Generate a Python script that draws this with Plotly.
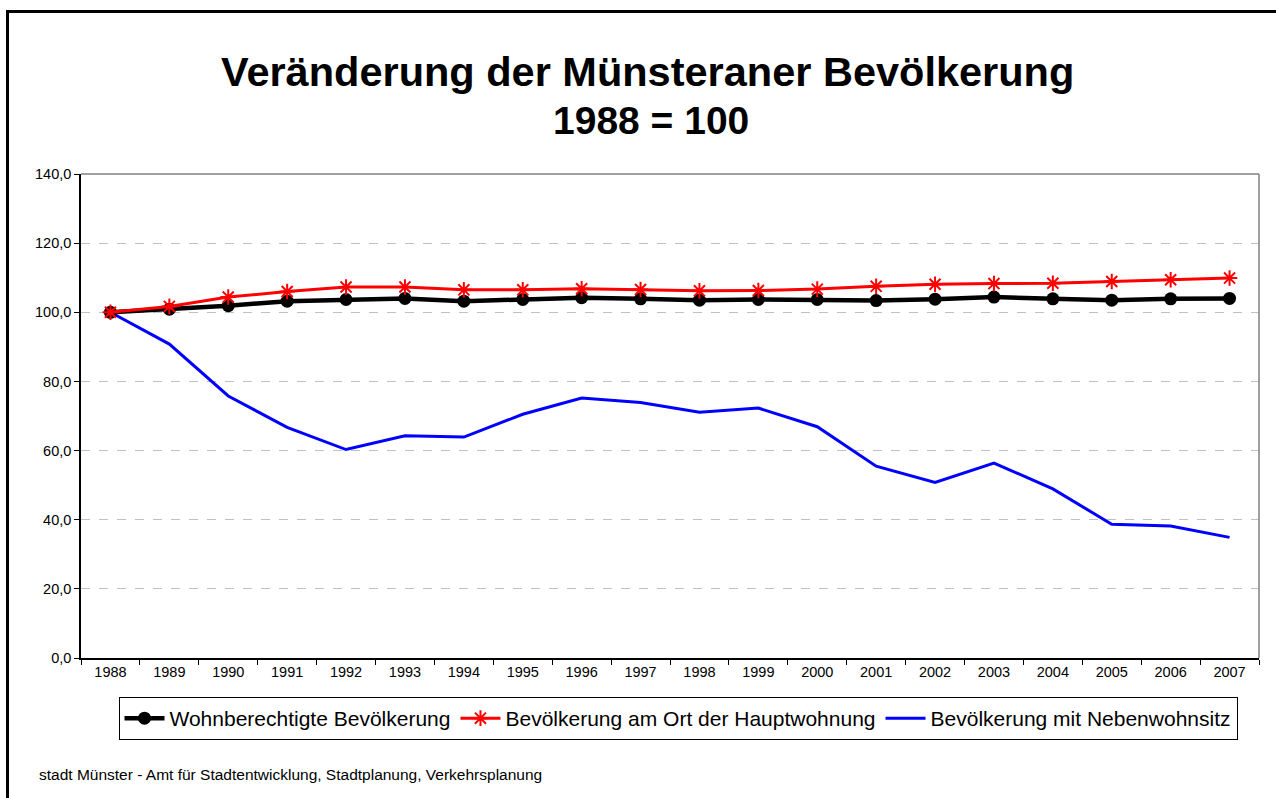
import plotly.graph_objects as go

years = [str(y) for y in range(1988, 2008)]
wohnberechtigte = [100.0, 100.9, 101.9, 103.2, 103.7, 104.0, 103.2, 103.7, 104.2, 103.9,
                   103.5, 103.7, 103.7, 103.4, 103.8, 104.4, 103.9, 103.5, 103.9, 104.0]
hauptwohnung = [100.0, 101.7, 104.4, 106.0, 107.3, 107.3, 106.5, 106.5, 106.8, 106.6,
                106.2, 106.3, 106.7, 107.5, 108.1, 108.3, 108.4, 108.9, 109.4, 109.9]
nebenwohnsitz = [100.0, 90.8, 75.8, 66.7, 60.3, 64.3, 63.9, 70.5, 75.2, 73.9,
                 71.1, 72.3, 66.9, 55.5, 50.8, 56.4, 48.9, 38.7, 38.2, 34.9]

names = ["Wohnberechtigte Bevölkerung", "Bevölkerung am Ort der Hauptwohnung",
         "Bevölkerung mit Nebenwohnsitz"]
title1 = "Veränderung der Münsteraner Bevölkerung"
title2 = "1988 = 100"
footer = "stadt Münster - Amt für Stadtentwicklung, Stadtplanung, Verkehrsplanung"

FONT = "Arial, Liberation Sans, sans-serif"

fig = go.Figure()
fig.add_trace(go.Scatter(x=years, y=nebenwohnsitz, name=names[2], mode="lines",
                         line=dict(color="#0000ff", width=3), legendrank=3))
fig.add_trace(go.Scatter(x=years, y=wohnberechtigte, name=names[0], mode="lines+markers",
                         line=dict(color="black", width=4.5),
                         marker=dict(symbol="circle", size=13, color="black"),
                         legendrank=1))
fig.add_trace(go.Scatter(x=years, y=hauptwohnung, name=names[1], mode="lines+markers",
                         line=dict(color="#ff0000", width=3),
                         marker=dict(symbol="asterisk-open", size=13,
                                     line=dict(color="#ff0000", width=2)),
                         legendrank=2))

W, H = 1276, 798
L, R, T, B = 81, 1259, 174, 658
pw, ph = R - L, B - T


def px(x):
    return (x - L) / pw


def py(y):
    return (B - y) / ph


fig.update_layout(
    width=W, height=H,
    margin=dict(l=L, r=W - R, t=T, b=H - B, autoexpand=False),
    paper_bgcolor="white", plot_bgcolor="white",
    separators=",.",
    font=dict(family=FONT, color="black", size=14.5),
    showlegend=True,
    legend=dict(orientation="h", x=px(678), xanchor="center", y=py(697), yanchor="top",
                bordercolor="black", borderwidth=1, bgcolor="white",
                font=dict(size=21, family=FONT), itemwidth=40, tracegroupgap=0),
    xaxis=dict(type="category", range=[-0.5, 19.5], showline=True, linecolor="black",
               linewidth=1.5, ticks="outside", ticklen=5, tickcolor="black",
               tickson="boundaries", showgrid=False, tickfont=dict(size=14.5),
               fixedrange=True),
    yaxis=dict(range=[0, 140], dtick=20, tickformat=".1f", showline=True,
               linecolor="black", linewidth=1.5, ticks="outside", ticklen=5,
               tickcolor="black", showgrid=True, gridcolor="#c0c0c0",
               griddash="dash", gridwidth=1, zeroline=False,
               tickfont=dict(size=14.5), fixedrange=True),
    shapes=[
        dict(type="line", xref="paper", yref="paper", x0=0, x1=1, y0=1, y1=1,
             line=dict(color="#808080", width=1.5)),
        dict(type="line", xref="paper", yref="paper", x0=1, x1=1, y0=0, y1=1,
             line=dict(color="#808080", width=1.5)),
        dict(type="rect", xref="paper", yref="paper", x0=px(7.5), x1=px(1290),
             y0=py(820), y1=py(11.5), line=dict(color="black", width=3)),
    ],
    annotations=[
        dict(text="<b>" + title1 + "</b>", xref="paper", yref="paper", x=px(647),
             y=py(72), xanchor="center", yanchor="middle", showarrow=False,
             font=dict(size=41.5, family=FONT)),
        dict(text="<b>" + title2 + "</b>", xref="paper", yref="paper", x=px(651),
             y=py(120), xanchor="center", yanchor="middle", showarrow=False,
             font=dict(size=39, family=FONT)),
        dict(text=footer, xref="paper", yref="paper", x=px(37), y=py(774),
             xanchor="left", yanchor="middle", showarrow=False,
             font=dict(size=15.5, family=FONT)),
    ],
)

fig.write_html("out.html", config={"displayModeBar": False},
               post_script="document.body.style.margin='0';"
                           "document.body.style.overflow='hidden';")
